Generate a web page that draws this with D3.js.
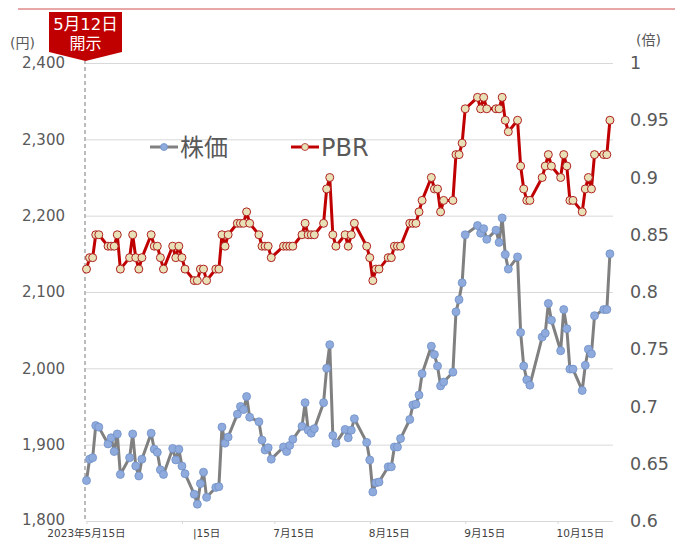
<!DOCTYPE html>
<html>
<head>
<meta charset="utf-8">
<script src="https://cdn.jsdelivr.net/npm/d3@7"></script>
<style>
  html, body { margin: 0; padding: 0; background: #fff; }
  svg { display: block; }
  text { font-family: "DejaVu Sans", "Noto Sans CJK JP", sans-serif; }
</style>
</head>
<body>
<svg id="chart" width="675" height="543"></svg>
<script>
// Trading days (2023-05-15 .. 2023-11-01)
const dates = [
  "2023-05-15","2023-05-16","2023-05-17","2023-05-18","2023-05-19",
  "2023-05-22","2023-05-23","2023-05-24","2023-05-25","2023-05-26",
  "2023-05-29","2023-05-30","2023-05-31",
  "2023-06-01","2023-06-02",
  "2023-06-05","2023-06-06","2023-06-07","2023-06-08","2023-06-09",
  "2023-06-12","2023-06-13","2023-06-14","2023-06-15","2023-06-16",
  "2023-06-19","2023-06-20","2023-06-21","2023-06-22","2023-06-23",
  "2023-06-26","2023-06-27","2023-06-28","2023-06-29","2023-06-30",
  "2023-07-03","2023-07-04","2023-07-05","2023-07-06","2023-07-07",
  "2023-07-10","2023-07-11","2023-07-12","2023-07-13","2023-07-14",
  "2023-07-18","2023-07-19","2023-07-20","2023-07-21",
  "2023-07-24","2023-07-25","2023-07-26","2023-07-27","2023-07-28",
  "2023-07-31",
  "2023-08-01","2023-08-02","2023-08-03","2023-08-04",
  "2023-08-07","2023-08-08","2023-08-09","2023-08-10",
  "2023-08-14","2023-08-15","2023-08-16","2023-08-17","2023-08-18",
  "2023-08-21","2023-08-22","2023-08-23","2023-08-24","2023-08-25",
  "2023-08-28","2023-08-29","2023-08-30","2023-08-31",
  "2023-09-01",
  "2023-09-04","2023-09-05","2023-09-06","2023-09-07","2023-09-08",
  "2023-09-11","2023-09-12","2023-09-13","2023-09-14","2023-09-15",
  "2023-09-19","2023-09-20","2023-09-21","2023-09-22",
  "2023-09-25","2023-09-26","2023-09-27","2023-09-28","2023-09-29",
  "2023-10-02","2023-10-03","2023-10-04","2023-10-05","2023-10-06",
  "2023-10-10","2023-10-11","2023-10-12","2023-10-13",
  "2023-10-16","2023-10-17","2023-10-18","2023-10-19","2023-10-20",
  "2023-10-23","2023-10-24","2023-10-25","2023-10-26","2023-10-27",
  "2023-10-30","2023-10-31",
  "2023-11-01"
];

// 株価 (円)
const price = [
  1853,1881,1883,1925,1923, 1901,1909,1891,1914,1861, 1883,1914,1872,
  1859,1881, 1915,1894,1890,1867,1861, 1895,1880,1894,1872,1862,
  1835,1822,1849,1864,1831, 1844,1845,1923,1902,1910,
  1940,1950,1946,1963,1936, 1930,1906,1893,1896,1881,
  1897,1891,1899,1907, 1924,1955,1919,1915,1921, 1955,
  2000,2031,1912,1902, 1920,1909,1919,1934,
  1903,1880,1838,1850,1851, 1871,1871,1897,1897,1908, 1933,1952,1953,1965,
  1993, 2029,2018,2003,1977,1982, 1995,2074,2090,2112,2175,
  2187,2177,2183,2169, 2181,2165,2197,2149,2130,
  2146,2047,2003,1985,1978, 2041,2046,2085,2063,
  2023,2077,2052,1999,1999, 1971,2004,2025,2019,2069, 2077,2077,
  2150
];

// PBR (倍)
const pbr = [
  0.82,0.83,0.83,0.85,0.85, 0.84,0.84,0.84,0.85,0.82, 0.83,0.85,0.83,
  0.82,0.83, 0.85,0.84,0.84,0.83,0.82, 0.84,0.83,0.84,0.83,0.82,
  0.81,0.81,0.82,0.82,0.81, 0.82,0.82,0.85,0.84,0.85,
  0.86,0.86,0.86,0.87,0.86, 0.85,0.84,0.84,0.84,0.83,
  0.84,0.84,0.84,0.84, 0.85,0.86,0.85,0.85,0.85, 0.86,
  0.89,0.90,0.85,0.84, 0.85,0.84,0.85,0.86,
  0.84,0.83,0.81,0.82,0.82, 0.83,0.83,0.84,0.84,0.84, 0.86,0.86,0.86,0.87,
  0.88, 0.90,0.89,0.89,0.87,0.88, 0.88,0.92,0.92,0.93,0.96,
  0.97,0.96,0.97,0.96, 0.96,0.96,0.97,0.95,0.94,
  0.95,0.91,0.89,0.88,0.88, 0.90,0.91,0.92,0.91,
  0.90,0.92,0.91,0.88,0.88, 0.87,0.89,0.90,0.89,0.92, 0.92,0.92,
  0.95
];

const priceTicks = [1800, 1900, 2000, 2100, 2200, 2300, 2400];
const pbrTicks = [0.6, 0.65, 0.7, 0.75, 0.8, 0.85, 0.9, 0.95, 1];
const dateTicks = ["2023-05-15","2023-06-15","2023-07-15","2023-08-15","2023-09-15","2023-10-15"];
const dateTickLabels = ["2023年5月15日","|15日","7月15日","8月15日","9月15日","10月15日"];
const seriesNames = ["株価", "PBR"];

const parse = d3.timeParse("%Y-%m-%d");
const rows = dates.map((d, i) => ({ date: parse(d), price: price[i], pbr: pbr[i] }));

const svg = d3.select("#chart");
const W = 675, H = 543;
svg.append("rect").attr("width", W).attr("height", H).attr("fill", "#fff");

const plot = { left: 86, right: 613, top: 63, bottom: 521 };

const x = d3.scaleTime()
  .domain([parse("2023-05-15"), parse("2023-11-02")])
  .range([plot.left + 0.5, plot.right]);
const yL = d3.scaleLinear().domain([1800, 2400]).range([plot.bottom, plot.top]);
const yR = d3.scaleLinear().domain([0.6, 1]).range([plot.bottom, plot.top]);

const labelColor = "#595959";

// header rule
svg.append("line")
  .attr("x1", 18).attr("x2", W).attr("y1", 9).attr("y2", 9)
  .attr("stroke", "#d05050").attr("stroke-width", 1);

// left axis with gridlines
const gL = svg.append("g").attr("transform", `translate(${plot.left},0)`)
  .call(d3.axisLeft(yL).tickValues(priceTicks)
    .tickSize(-(plot.right - plot.left)).tickPadding(21)
    .tickFormat(d3.format(",")));
gL.select(".domain").remove();
gL.selectAll(".tick line").attr("stroke", "#d9d9d9").attr("stroke-width", 1);
gL.selectAll(".tick text")
  .attr("fill", labelColor).style("font-size", "15px");
// lift the bottom value a touch so it clears the date label beneath it
gL.selectAll(".tick text").filter(d => d === 1800).attr("dy", "0.2em");

// right axis
const gR = svg.append("g").attr("transform", `translate(${plot.right},0)`)
  .call(d3.axisRight(yR).tickValues(pbrTicks).tickSize(0).tickPadding(17)
    .tickFormat(d => String(+d.toFixed(2))));
gR.select(".domain").remove();
gR.selectAll(".tick text")
  .attr("fill", labelColor).style("font-size", "17.5px");

// unit labels
svg.append("text").attr("x", 10).attr("y", 48).attr("fill", labelColor)
  .style("font-size", "14px").text("(円)");
svg.append("text").attr("x", 636).attr("y", 45).attr("fill", labelColor)
  .style("font-size", "14px").text("(倍)");

// bottom axis
const gB = svg.append("g").attr("transform", `translate(0,${plot.bottom})`)
  .call(d3.axisBottom(x).tickValues(dateTicks.map(parse)).tickSize(3).tickFormat(""));
gB.select(".domain").attr("stroke", "#d9d9d9").attr("d", `M${plot.left},0.5H${plot.right}`);
gB.selectAll(".tick line").attr("stroke", "#d9d9d9");

const tickX = dateTicks.map(d => x(parse(d)));
svg.append("g").selectAll("text")
  .data(dateTickLabels)
  .join("text")
  .attr("x", (d, i) => i === 0 ? tickX[0] : (i === 1 ? tickX[i] + 11 : tickX[i] - 1))
  .attr("y", 537)
  .attr("text-anchor", (d, i) => i === 0 ? "middle" : "start")
  .attr("fill", "#404040")
  .style("font-size", "10.5px")
  .text(d => d);

// disclosure marker
svg.append("line")
  .attr("x1", 85).attr("x2", 85).attr("y1", 60).attr("y2", plot.bottom)
  .attr("stroke", "#a6a6a6").attr("stroke-width", 1.5)
  .attr("stroke-dasharray", "4,3");
svg.append("path")
  .attr("d", "M49,12H122V52L85.5,61L49,52Z")
  .attr("fill", "#c00000");
svg.append("text").attr("x", 85.5).attr("y", 29.5).attr("text-anchor", "middle")
  .attr("fill", "#fff").style("font-size", "16.5px").text("5月12日");
svg.append("text").attr("x", 85.5).attr("y", 49).attr("text-anchor", "middle")
  .attr("fill", "#fff").style("font-size", "16px").text("開示");

// series styles
const grayLine = "#808080", grayFill = "#8faadc", grayStroke = "#7090c8";
const redLine = "#c00000", redFill = "#e8e1b8", redStroke = "#b02020";

// 株価
svg.append("path").datum(rows)
  .attr("fill", "none").attr("stroke", grayLine).attr("stroke-width", 3)
  .attr("stroke-linejoin", "round")
  .attr("d", d3.line().x(d => x(d.date)).y(d => yL(d.price)));
svg.append("g").selectAll("circle").data(rows).join("circle")
  .attr("cx", d => x(d.date)).attr("cy", d => yL(d.price)).attr("r", 4)
  .attr("fill", grayFill).attr("stroke", grayStroke).attr("stroke-width", 0.8);

// PBR
svg.append("path").datum(rows)
  .attr("fill", "none").attr("stroke", redLine).attr("stroke-width", 3)
  .attr("stroke-linejoin", "round")
  .attr("d", d3.line().x(d => x(d.date)).y(d => yR(d.pbr)));
svg.append("g").selectAll("circle").data(rows).join("circle")
  .attr("cx", d => x(d.date)).attr("cy", d => yR(d.pbr)).attr("r", 4)
  .attr("fill", redFill).attr("stroke", redStroke).attr("stroke-width", 1);

// legend
const legend = [
  { name: seriesNames[0], x: 150, line: grayLine, fill: grayFill, stroke: grayStroke },
  { name: seriesNames[1], x: 291, line: redLine, fill: redFill, stroke: redStroke }
];
const lg = svg.append("g").selectAll("g").data(legend).join("g")
  .attr("transform", d => `translate(${d.x},147)`);
lg.append("line").attr("x1", 0).attr("x2", 28).attr("y1", 0).attr("y2", 0)
  .attr("stroke", d => d.line).attr("stroke-width", 3);
lg.append("circle").attr("cx", 14).attr("cy", 0).attr("r", 3.5)
  .attr("fill", d => d.fill).attr("stroke", d => d.stroke).attr("stroke-width", 0.8);
lg.append("text").attr("x", 30).attr("y", 8.5)
  .attr("fill", labelColor).style("font-size", "24px").text(d => d.name);
</script>
</body>
</html>
